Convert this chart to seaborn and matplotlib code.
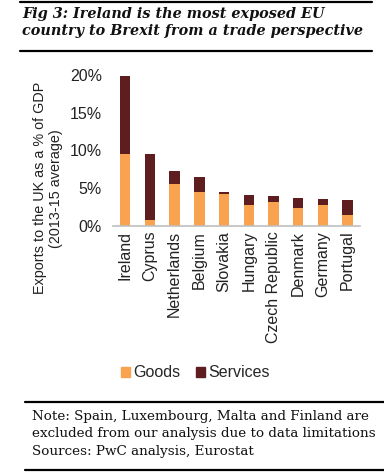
import pandas as pd
import seaborn as sns
import matplotlib.pyplot as plt
from matplotlib.lines import Line2D
from matplotlib.patches import Patch

countries = ['Ireland', 'Cyprus', 'Netherlands', 'Belgium', 'Slovakia', 'Hungary',
             'Czech Republic', 'Denmark', 'Germany', 'Portugal']
goods = [9.5, 0.8, 5.6, 4.55, 4.25, 2.8, 3.2, 2.45, 2.8, 1.5]
services = [10.3, 8.7, 1.7, 1.95, 0.25, 1.3, 0.8, 1.25, 0.8, 1.95]
yticks = [0, 5, 10, 15, 20]

goods_col = '#F9A351'
serv_col = '#5E1D1E'

df = pd.DataFrame({'country': countries, 'Goods': goods, 'Services': services})
df['total'] = df['Goods'] + df['Services']

sns.set_style('white')
plt.rcParams['font.family'] = ['Liberation Sans', 'DejaVu Sans']

fig = plt.figure(figsize=(3.84, 4.75), dpi=100)
ax = fig.add_axes([0.294, 0.5242, 0.6435, 0.318])

sns.barplot(data=df, x='country', y='total', color=serv_col, width=0.42,
            saturation=1, linewidth=0, edgecolor='none', ax=ax)
sns.barplot(data=df, x='country', y='Goods', color=goods_col, width=0.42,
            saturation=1, linewidth=0, edgecolor='none', ax=ax)

ax.set_ylim(0, 20)
ax.set_xlim(-0.5, len(countries) - 0.5)
ax.set_yticks(yticks)
ax.set_yticklabels([f'{t}%' for t in yticks], fontsize=11.5, color='#222222')
ax.tick_params(axis='x', labelrotation=90, labelsize=11.5, colors='#222222', length=0)
ax.tick_params(axis='y', length=0, pad=8)
ax.set_xlabel('')
ax.set_ylabel('Exports to the UK as a % of GDP\n(2013-15 average)', fontsize=10.4,
              color='#222222')
ax.yaxis.set_label_coords(-0.2, 0.25)
for s in ['top', 'right', 'left']:
    ax.spines[s].set_visible(False)
ax.spines['bottom'].set_color('#BFBFBF')
ax.spines['bottom'].set_linewidth(1.2)

handles = [Patch(color=goods_col, label='Goods'), Patch(color=serv_col, label='Services')]
fig.legend(handles=handles, loc='center', bbox_to_anchor=(0.508, 0.215), ncol=2,
           frameon=False, fontsize=11.5, handlelength=0.55, handleheight=0.55,
           handletextpad=0.2, columnspacing=1.0)

# title block
fig.text(0.057, 1 - 7 / 475, 'Fig 3: Ireland is the most exposed EU\ncountry to Brexit from a trade perspective',
         ha='left', va='top', fontsize=10.4, fontweight='bold', fontstyle='italic',
         family='DejaVu Serif', linespacing=1.3, color='#111111')
for y in [1.8, 50.5]:
    fig.add_artist(Line2D([20 / 384, 372 / 384], [1 - y / 475, 1 - y / 475],
                          transform=fig.transFigure, color='black', lw=1.6))

# notes block
fig.text(0.083, 1 - 410 / 475,
         'Note: Spain, Luxembourg, Malta and Finland are\nexcluded from our analysis due to data limitations\nSources: PwC analysis, Eurostat',
         ha='left', va='top', fontsize=9.7, family='DejaVu Serif', linespacing=1.45,
         color='#111111')
for y in [401.7, 469.5]:
    fig.add_artist(Line2D([25 / 384, 1.0], [1 - y / 475, 1 - y / 475],
                          transform=fig.transFigure, color='black', lw=1.6))

fig.savefig('out.png', dpi=100)
